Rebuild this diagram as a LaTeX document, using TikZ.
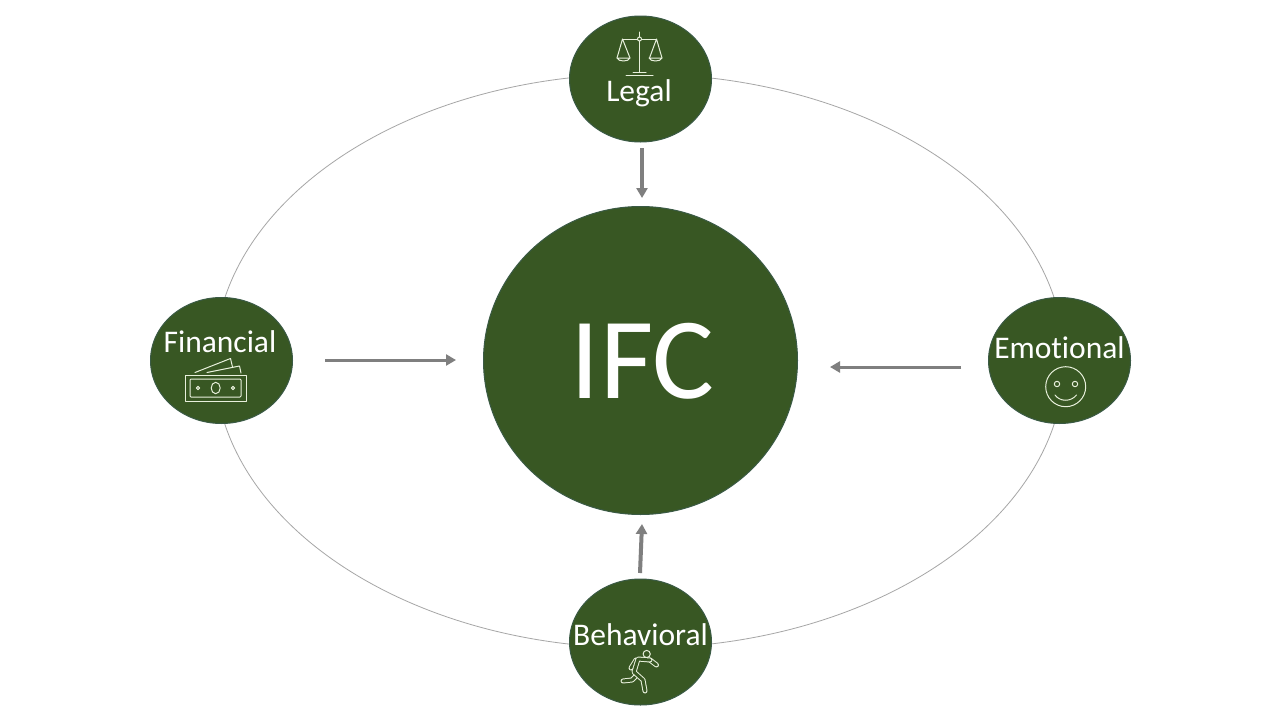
\documentclass[tikz,border=0pt]{standalone}
\usepackage{fontspec}
\setmainfont[Ligatures=NoCommon]{Carlito}
\usetikzlibrary{arrows.meta,shapes.geometric}
\definecolor{ifcgreen}{HTML}{385723}
\definecolor{ifcedge}{HTML}{3A5A45}
\definecolor{arrowgray}{HTML}{7F7F7F}
\definecolor{orbitgray}{HTML}{A6A6A6}
\definecolor{iconline}{HTML}{E8F0DC}
\tikzset{
  x=1pt,y=-1pt,
  orbit/.style={draw=orbitgray,line width=0.8pt},
  hub/.style={ellipse,draw=ifcedge,fill=ifcgreen,line width=1pt,inner sep=0pt,minimum width=142pt,minimum height=126pt},
  lbl/.style={anchor=base,text=white,inner sep=0pt,font=\fontsize{31.5}{31.5}\selectfont},
  flow/.style={draw=arrowgray,line width=3pt,-{Triangle[length=10pt,width=11pt]}},
  icon/.style={draw=iconline,line width=1pt,line join=round,line cap=round},
  runner/.style={draw=iconline,line width=1pt,double=ifcgreen,double distance=3pt,line join=round,line cap=round},
}
\begin{document}
\begin{tikzpicture}
\useasboundingbox (0,0) rectangle (1280,720);
\fill[white] (0,0) rectangle (1280,720);
\node[ellipse,orbit,inner sep=0pt,minimum width=850pt,minimum height=574pt] (orbitline) at (639.5,361) {};
\node[hub] (legal) at (640.5,79) {};
\node[hub] (financial) at (221.5,360.5) {};
\node[hub] (emotional) at (1059.5,360.5) {};
\node[hub] (behavioral) at (640.5,642) {};
\node[ellipse,fill=ifcgreen,draw=ifcedge,line width=1pt,inner sep=0pt,minimum width=314pt,minimum height=308pt] (ifc) at (640.5,360.5) {};
\node[anchor=base,text=white,inner sep=0pt,font=\fontsize{116}{116}\selectfont] (ifctext) at (642.5,398) {IFC};
\node[lbl] (legaltext) at (639,101) {Legal};
\node[lbl] (fintext) at (220,352) {Financial};
\node[lbl] (emotext) at (1059.5,358) {Emotional};
\node[lbl] (behtext) at (640.5,645) {Behavioral};
% connectors
\coordinate (a1) at (642,148); \coordinate (a2) at (642,198);
\coordinate (b1) at (325,360); \coordinate (b2) at (456,360);
\coordinate (c1) at (961,367); \coordinate (c2) at (830,367);
\coordinate (d1) at (640,573); \coordinate (d2) at (642,524);
\draw[flow,line width=4pt] (a1) -- (a2);
\draw[flow] (b1) -- (b2);
\draw[flow] (c1) -- (c2);
\draw[flow,line width=4pt] (d1) -- (d2);
% scales icon
\draw[icon] (639.5,32) -- (639.5,37) (639.5,41) -- (639.5,72);
\draw[icon] (639.5,39) circle (2);
\draw[icon] (622.5,39) -- (637.5,39) (641.5,39) -- (656.5,39);
\draw[icon] (617,58) -- (622.5,39) -- (630,58);
\draw[icon] (649.5,58) -- (656.5,39) -- (662,58);
\draw[icon] (617,58) -- (630,58) .. controls (629,62) and (618,62) .. (617,58);
\draw[icon] (649,58) -- (662,58) .. controls (661,62) and (650,62) .. (649,58);
\draw[icon] (633,72.5) -- (646,72.5);
\draw[icon] (626,75) -- (653,75);
% money icon
\draw[icon] (185,375) rectangle (246,401.5);
\draw[icon,rounded corners=1pt] (190,379) rectangle (241,397);
\draw[icon] (215.7,388) ellipse (4.5 and 5.7);
\draw[icon] (198,388) circle (1.7);
\draw[icon] (233,388) circle (1.7);
\draw[icon] (195,372.5) -- (230.5,358.5) -- (232.5,367);
\draw[icon] (207,372.5) -- (239.5,366) -- (241,373);
% smiley icon
\draw[icon] (1065.7,386.7) circle (20);
\draw[icon] (1057,384) circle (2.7);
\draw[icon] (1075,384) circle (2.7);
\draw[icon] (1055,395) .. controls (1060,402) and (1071,402) .. (1076.5,395);
% runner icon
\draw[icon] (646.7,654) circle (3.6);
\draw[runner] (637,675) -- (632,680) -- (623,681);
\draw[runner] (650,660) -- (656.5,665);
\draw[runner] (636,660) -- (631,668);
\draw[runner] (650,660) -- (638,659) -- (634,672) -- (643,680) -- (645,691);
\end{tikzpicture}
\end{document}
